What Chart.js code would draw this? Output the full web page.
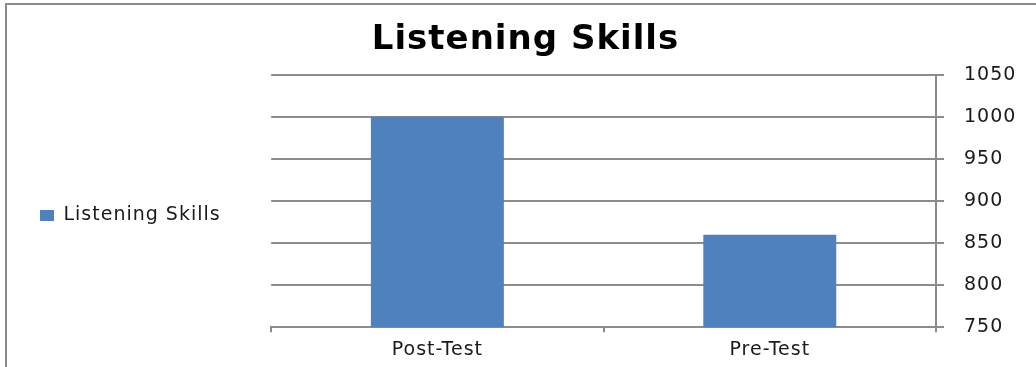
<!DOCTYPE html>
<html>
<head>
<meta charset="utf-8">
<script src="https://cdn.jsdelivr.net/npm/chart.js@4.4.1/dist/chart.umd.min.js"></script>
<style>
  html, body { margin: 0; padding: 0; background: #fff; }
  #wrap { position: relative; width: 1036px; height: 367px; }
  #frame {
    position: absolute; left: 5px; top: 3px; right: 0; bottom: 0;
    border-top: 2px solid #8a8a8a; border-left: 2px solid #8a8a8a;
    pointer-events: none;
  }
</style>
</head>
<body>
<div id="wrap">
  <canvas id="chart" width="1036" height="367"></canvas>
  <div id="frame"></div>
</div>
<script>
// data
const categorias = ["Post-Test", "Pre-Test"];
const valores = [1000, 860];
const serie = "Listening Skills";
const titulo = "Listening Skills";
const ejeMin = 750;
const ejeMax = 1050;
const paso = 50;

const GRIS = "#8c8c8c";
const AZUL = "#4f81bd";
const FUENTE = "DejaVu Sans";

// texto un poco mas ancho, como en la imagen original
function ponerEspaciado(chart) {
  chart.ctx.letterSpacing = "1px";
}
const espaciado = {
  id: "espaciado",
  beforeLayout: ponerEspaciado,
  afterLayout(chart) {
    // la leyenda se mide sin el espaciado y se recorta: ampliar su caja
    if (chart.legend) {
      chart.legend.width += 40;
      chart.legend.right += 40;
    }
  },
  beforeDraw: ponerEspaciado,
};

const ctx = document.getElementById("chart");
new Chart(ctx, {
  type: "bar",
  data: {
    labels: categorias,
    datasets: [
      {
        label: serie,
        data: valores,
        backgroundColor: AZUL,
        borderWidth: 0,
        categoryPercentage: 1,
        barPercentage: 0.4,
      },
    ],
  },
  plugins: [espaciado],
  options: {
    responsive: false,
    animation: false,
    layout: { padding: { top: 0, right: 15, bottom: 0, left: 30 } },
    plugins: {
      title: {
        display: true,
        text: titulo,
        color: "#000",
        font: { family: FUENTE, size: 34, weight: "bold" },
        padding: { top: 20, bottom: 14 },
      },
      legend: {
        position: "left",
        // titulo vacio solo para bajar la leyenda
        title: { display: true, text: " ", font: { size: 10 }, padding: { top: 0, bottom: 52 } },
        labels: {
          color: "#1a1a1a",
          font: { family: FUENTE, size: 19 },
          boxWidth: 14,
          boxHeight: 11,
          padding: 10,
        },
      },
      tooltip: { enabled: false },
    },
    scales: {
      x: {
        offset: true,
        grid: {
          offset: true,
          drawOnChartArea: false,
          drawTicks: true,
          tickLength: 5,
          color: GRIS,
          lineWidth: 2,
        },
        border: { display: true, color: GRIS, width: 2 },
        ticks: {
          color: "#1a1a1a",
          font: { family: FUENTE, size: 19 },
          padding: 6,
        },
      },
      y: {
        position: "right",
        min: ejeMin,
        max: ejeMax,
        grid: { color: GRIS, lineWidth: 2, tickLength: 8 },
        border: { display: true, color: GRIS, width: 2 },
        ticks: {
          stepSize: paso,
          color: "#1a1a1a",
          font: { family: FUENTE, size: 19 },
          padding: 20,
          callback: (v) => String(v),
        },
        afterFit: (s) => { s.width = 85; },
      },
      // eje vacio: separa la leyenda del area del grafico
      relleno: {
        type: "linear",
        position: "left",
        display: true,
        grid: { display: false },
        border: { display: false },
        ticks: { display: false },
        afterFit: (s) => { s.width = 76; },
      },
    },
  },
});
</script>
</body>
</html>
